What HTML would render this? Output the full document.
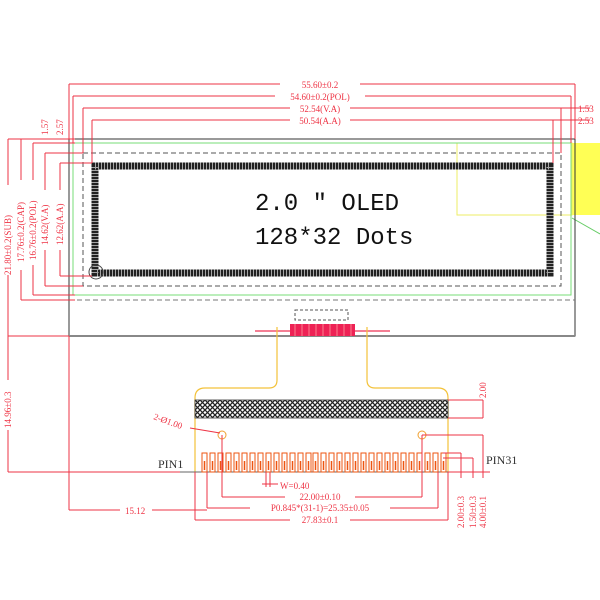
<!DOCTYPE html>
<html><head><meta charset="utf-8"><style>html,body{margin:0;padding:0;background:#fff}svg{display:block}</style></head>
<body>
<svg width="600" height="600" viewBox="0 0 600 600" xmlns="http://www.w3.org/2000/svg" font-family="Liberation Serif, serif">
<defs>
<pattern id="hx" width="5" height="5" patternUnits="userSpaceOnUse">
<rect width="5" height="5" fill="#fff"/><path d="M0 0L5 5M5 0L0 5" stroke="#222" stroke-width="1.3"/>
</pattern>
</defs>
<!-- yellow -->
<rect x="572" y="143" width="28" height="72" fill="#ffff55"/>
<rect x="457" y="143" width="115" height="72" fill="none" stroke="#eeee66" stroke-width="1"/>
<line x1="572" y1="218" x2="600" y2="234" stroke="#66cc66" stroke-width="1"/>
<!-- glass -->
<rect x="69" y="139" width="506" height="197" fill="none" stroke="#333" stroke-width="1"/>
<line x1="69" y1="336" x2="575" y2="336" stroke="#888" stroke-width="2"/>
<rect x="73" y="143" width="498" height="152" fill="none" stroke="#77dd77" stroke-width="1"/>
<rect x="83" y="153" width="478" height="133" fill="none" stroke="#555" stroke-width="1" stroke-dasharray="5,3"/>
<line x1="69" y1="300" x2="575" y2="300" stroke="#777" stroke-width="1" stroke-dasharray="5,3"/>
<!-- active area hatched border -->
<rect x="95" y="166" width="455" height="107" fill="none" stroke="#222" stroke-width="7"/>
<rect x="95" y="166" width="455" height="107" fill="none" stroke="#fff" stroke-width="7" stroke-dasharray="1,2" opacity="0.6"/>
<circle cx="96" cy="272" r="7" fill="none" stroke="#444" stroke-width="1"/>
<text x="255" y="210" font-family="Liberation Mono, monospace" font-size="24" fill="#111">2.0 " OLED</text>
<text x="255" y="244" font-family="Liberation Mono, monospace" font-size="24" fill="#111">128*32 Dots</text>

<!-- top dimensions -->
<g stroke="#ee3344" stroke-width="1" fill="none">
<line x1="69" y1="84" x2="575" y2="84"/><line x1="69" y1="84" x2="69" y2="139"/><line x1="575" y1="84" x2="575" y2="139"/>
<line x1="73" y1="96" x2="571" y2="96"/><line x1="73" y1="96" x2="73" y2="143"/><line x1="571" y1="96" x2="571" y2="143"/>
<line x1="83" y1="108" x2="590" y2="108"/><line x1="83" y1="108" x2="83" y2="153"/><line x1="561" y1="108" x2="561" y2="153"/>
<line x1="92" y1="120" x2="590" y2="120"/><line x1="92" y1="120" x2="92" y2="163"/><line x1="553" y1="120" x2="553" y2="163"/>
<!-- left -->
<line x1="8" y1="139" x2="8" y2="472"/><line x1="8" y1="139" x2="69" y2="139"/>
<line x1="21" y1="139" x2="21" y2="300"/><line x1="21" y1="300" x2="75" y2="300"/><line x1="21" y1="139" x2="75" y2="139"/>
<line x1="33" y1="143" x2="33" y2="295"/><line x1="33" y1="143" x2="75" y2="143"/><line x1="33" y1="295" x2="75" y2="295"/>
<line x1="45" y1="153" x2="45" y2="286"/><line x1="45" y1="153" x2="83" y2="153"/><line x1="45" y1="286" x2="83" y2="286"/>
<line x1="60" y1="163" x2="60" y2="276"/><line x1="60" y1="163" x2="92" y2="163"/><line x1="60" y1="276" x2="92" y2="276"/>
<line x1="8" y1="336" x2="69" y2="336"/>
<line x1="8" y1="472" x2="200" y2="472"/>
<line x1="69" y1="336" x2="69" y2="510"/>
<line x1="69" y1="510" x2="207" y2="510"/>
</g>
<g fill="#ee3344" font-size="9">
<rect x="280" y="78" width="80" height="12" fill="#fff"/><text x="320" y="88" text-anchor="middle">55.60±0.2</text>
<rect x="275" y="90" width="90" height="12" fill="#fff"/><text x="320" y="100" text-anchor="middle">54.60±0.2(POL)</text>
<rect x="290" y="102" width="60" height="12" fill="#fff"/><text x="320" y="112" text-anchor="middle">52.54(V.A)</text>
<rect x="290" y="114" width="60" height="12" fill="#fff"/><text x="320" y="124" text-anchor="middle">50.54(A.A)</text>
<text x="578" y="112">1.53</text><text x="578" y="124">2.53</text>
<text transform="translate(48,135) rotate(-90)">1.57</text>
<text transform="translate(63,135) rotate(-90)">2.57</text>
<g>
<rect x="2" y="185" width="12" height="90" fill="#fff"/><text transform="translate(11,275) rotate(-90)">21.80±0.2(SUB)</text>
<rect x="15" y="180" width="12" height="90" fill="#fff"/><text transform="translate(24,262) rotate(-90)">17.76±0.2(CAP)</text>
<rect x="27" y="180" width="12" height="85" fill="#fff"/><text transform="translate(36,260) rotate(-90)">16.76±0.2(POL)</text>
<rect x="39" y="190" width="12" height="60" fill="#fff"/><text transform="translate(48,245) rotate(-90)">14.62(V.A)</text>
<rect x="54" y="190" width="12" height="60" fill="#fff"/><text transform="translate(63,245) rotate(-90)">12.62(A.A)</text>
<rect x="2" y="380" width="12" height="50" fill="#fff"/><text transform="translate(11,428) rotate(-90)">14.96±0.3</text>
<rect x="120" y="504" width="32" height="12" fill="#fff"/><text x="125" y="514">15.12</text>
</g>
</g>

<!-- FPC -->
<rect x="295" y="310" width="53" height="10" fill="none" stroke="#555" stroke-dasharray="3,2"/>
<line x1="255" y1="331" x2="390" y2="331" stroke="#ee3355" stroke-width="1.2"/>
<rect x="290" y="324" width="65" height="12" fill="#ee2255"/>
<g stroke="#ffaaaa" stroke-width="0.7"><line x1="295" y1="324" x2="295" y2="336"/><line x1="302" y1="324" x2="302" y2="336"/><line x1="309" y1="324" x2="309" y2="336"/><line x1="316" y1="324" x2="316" y2="336"/><line x1="323" y1="324" x2="323" y2="336"/><line x1="330" y1="324" x2="330" y2="336"/><line x1="337" y1="324" x2="337" y2="336"/><line x1="344" y1="324" x2="344" y2="336"/><line x1="351" y1="324" x2="351" y2="336"/></g>
<path d="M277 327 V380 Q277 388 269 388 H205 Q195 388 195 398 V472 M367 327 V380 Q367 388 375 388 H438 Q448 388 448 398 V472" fill="none" stroke="#f3c23a" stroke-width="1.2"/>
<rect x="195" y="400" width="253" height="18" fill="url(#hx)" stroke="#333" stroke-width="0.8"/>
<circle cx="222" cy="435" r="4" fill="none" stroke="#f0a030"/><circle cx="422" cy="435" r="4" fill="none" stroke="#f0a030"/>
<line x1="180" y1="472" x2="490" y2="472" stroke="#666" stroke-width="1"/>
<g fill="none" stroke="#ee5511" stroke-width="1">
<rect x="202" y="453" width="5" height="19"/><rect x="210" y="453" width="5" height="19"/><rect x="218" y="453" width="5" height="19"/><rect x="226" y="453" width="5" height="19"/><rect x="234" y="453" width="5" height="19"/><rect x="242" y="453" width="5" height="19"/><rect x="250" y="453" width="5" height="19"/><rect x="258" y="453" width="5" height="19"/><rect x="266" y="453" width="5" height="19"/><rect x="274" y="453" width="5" height="19"/><rect x="282" y="453" width="5" height="19"/><rect x="290" y="453" width="5" height="19"/><rect x="298" y="453" width="5" height="19"/><rect x="306" y="453" width="5" height="19"/><rect x="313" y="453" width="5" height="19"/><rect x="321" y="453" width="5" height="19"/><rect x="329" y="453" width="5" height="19"/><rect x="337" y="453" width="5" height="19"/><rect x="345" y="453" width="5" height="19"/><rect x="353" y="453" width="5" height="19"/><rect x="361" y="453" width="5" height="19"/><rect x="369" y="453" width="5" height="19"/><rect x="377" y="453" width="5" height="19"/><rect x="385" y="453" width="5" height="19"/><rect x="393" y="453" width="5" height="19"/><rect x="401" y="453" width="5" height="19"/><rect x="409" y="453" width="5" height="19"/><rect x="417" y="453" width="5" height="19"/><rect x="425" y="453" width="5" height="19"/><rect x="433" y="453" width="5" height="19"/><rect x="441" y="453" width="5" height="19"/>
</g>
<g stroke="#ee5511" stroke-width="1.5">
<path d="M204.5 461v9M212.5 461v9M220.5 461v9M228.5 461v9M236.5 461v9M244.5 461v9M252.5 461v9M260.5 461v9M268.5 461v9M276.5 461v9M284.5 461v9M292.5 461v9M300.5 461v9M308.5 461v9M315.5 461v9M323.5 461v9M331.5 461v9M339.5 461v9M347.5 461v9M355.5 461v9M363.5 461v9M371.5 461v9M379.5 461v9M387.5 461v9M395.5 461v9M403.5 461v9M411.5 461v9M419.5 461v9M427.5 461v9M435.5 461v9M443.5 461v9"/>
</g>
<text x="158" y="468" font-size="12" fill="#333">PIN1</text>
<text x="486" y="464" font-size="12" fill="#333">PIN31</text>
<!-- bottom dims -->
<g stroke="#ee3344" stroke-width="1" fill="none">
<line x1="222" y1="435" x2="222" y2="497"/><line x1="422" y1="435" x2="422" y2="497"/><line x1="222" y1="497" x2="422" y2="497"/>
<line x1="207" y1="472" x2="207" y2="508"/><line x1="438" y1="472" x2="438" y2="508"/><line x1="207" y1="508" x2="438" y2="508"/>
<line x1="195" y1="472" x2="195" y2="520"/><line x1="448" y1="472" x2="448" y2="520"/><line x1="195" y1="520" x2="448" y2="520"/>
<line x1="266" y1="472" x2="266" y2="487"/><line x1="270" y1="472" x2="270" y2="487"/><line x1="262" y1="484" x2="278" y2="484"/>
<line x1="190" y1="428" x2="220" y2="433"/>
<line x1="448" y1="400" x2="483" y2="400"/><line x1="448" y1="418" x2="483" y2="418"/><line x1="483" y1="400" x2="483" y2="418"/>
<line x1="422" y1="435" x2="483" y2="435"/><line x1="483" y1="435" x2="483" y2="478"/>
<line x1="443" y1="453" x2="461" y2="453"/><line x1="461" y1="453" x2="461" y2="478"/>
<line x1="443" y1="458" x2="473" y2="458"/><line x1="473" y1="458" x2="473" y2="478"/>
<line x1="448" y1="472" x2="490" y2="472"/>
</g>
<g fill="#ee3344" font-size="9">
<rect x="285" y="491" width="70" height="12" fill="#fff"/><text x="320" y="500" text-anchor="middle">22.00±0.10</text>
<rect x="250" y="502" width="140" height="12" fill="#fff"/><text x="320" y="511" text-anchor="middle">P0.845*(31-1)=25.35±0.05</text>
<rect x="290" y="514" width="60" height="12" fill="#fff"/><text x="320" y="523" text-anchor="middle">27.83±0.1</text>
<text x="280" y="489">W=0.40</text>
<text transform="translate(153,419) rotate(20)">2-Ø1.00</text>
<text transform="translate(486,398) rotate(-90)">2.00</text>
<text transform="translate(464,528) rotate(-90)">2.00±0.3</text>
<text transform="translate(476,528) rotate(-90)">1.50±0.3</text>
<text transform="translate(486,528) rotate(-90)">4.00±0.1</text>
</g>
</svg>
</body></html>
